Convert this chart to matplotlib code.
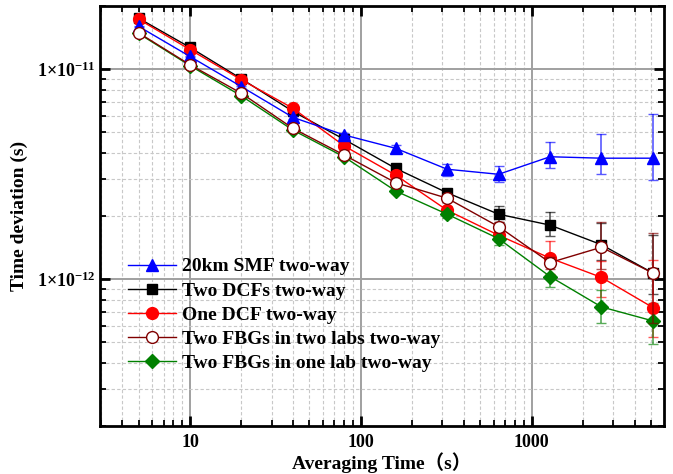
import matplotlib
matplotlib.use("Agg")
import matplotlib.pyplot as plt
from matplotlib.ticker import FixedLocator, NullFormatter, FixedFormatter, LogLocator
import numpy as np

plt.rcParams['font.family'] = ['Liberation Serif', 'Noto Sans CJK SC']
plt.rcParams['font.weight'] = 'bold'
plt.rcParams['mathtext.fontset'] = 'custom'
plt.rcParams['mathtext.rm'] = 'Liberation Serif:bold'
plt.rcParams['mathtext.bf'] = 'Liberation Serif:bold'
plt.rcParams['mathtext.it'] = 'Liberation Serif:bold'

tau = [5, 10, 20, 40, 80, 160, 320, 640, 1280, 2560, 5120]

labels = ["20km SMF two-way", "Two DCFs two-way", "One DCF two-way",
          "Two FBGs in two labs two-way", "Two FBGs in one lab two-way"]

smf = [1.60e-11, 1.15e-11, 8.26e-12, 5.9e-12, 4.86e-12, 4.2e-12, 3.34e-12, 3.16e-12, 3.83e-12, 3.77e-12, 3.77e-12]
smf_lo = [0.1e-12, 0.1e-12, 0.1e-12, 0.1e-12, 0.1e-12, 0.15e-12, 0.23e-12, 0.27e-12, 0.46e-12, 0.60e-12, 0.80e-12]
smf_hi = [0.1e-12, 0.1e-12, 0.1e-12, 0.1e-12, 0.1e-12, 0.15e-12, 0.18e-12, 0.30e-12, 0.66e-12, 1.14e-12, 2.33e-12]

dcf2 = [1.75e-11, 1.27e-11, 9.0e-12, 6.3e-12, 4.63e-12, 3.37e-12, 2.58e-12, 2.04e-12, 1.81e-12, 1.46e-12, 1.07e-12]
dcf2_lo = [0.1e-12, 0.1e-12, 0.1e-12, 0.08e-12, 0.08e-12, 0.08e-12, 0.1e-12, 0.17e-12, 0.21e-12, 0.23e-12, 0.22e-12]
dcf2_hi = [0.1e-12, 0.1e-12, 0.1e-12, 0.08e-12, 0.08e-12, 0.08e-12, 0.1e-12, 0.19e-12, 0.28e-12, 0.40e-12, 0.55e-12]

dcf1 = [1.73e-11, 1.24e-11, 8.9e-12, 6.52e-12, 4.31e-12, 3.13e-12, 2.13e-12, 1.62e-12, 1.26e-12, 1.02e-12, 7.33e-13]
dcf1_lo = [0.1e-12, 0.1e-12, 0.1e-12, 0.08e-12, 0.08e-12, 0.08e-12, 0.1e-12, 0.1e-12, 0.2e-12, 0.2e-12, 0.2e-12]
dcf1_hi = [0.1e-12, 0.1e-12, 0.1e-12, 0.08e-12, 0.08e-12, 0.08e-12, 0.1e-12, 0.1e-12, 0.26e-12, 0.2e-12, 0.5e-12]

fbg2 = [1.49e-11, 1.05e-11, 7.68e-12, 5.23e-12, 3.90e-12, 2.88e-12, 2.43e-12, 1.78e-12, 1.20e-12, 1.42e-12, 1.07e-12]
fbg2_lo = [0.1e-12, 0.1e-12, 0.08e-12, 0.06e-12, 0.06e-12, 0.06e-12, 0.08e-12, 0.1e-12, 0.08e-12, 0.3e-12, 0.45e-12]
fbg2_hi = [0.1e-12, 0.1e-12, 0.08e-12, 0.06e-12, 0.06e-12, 0.06e-12, 0.08e-12, 0.1e-12, 0.08e-12, 0.46e-12, 0.59e-12]

fbg1 = [1.48e-11, 1.04e-11, 7.46e-12, 5.13e-12, 3.82e-12, 2.63e-12, 2.04e-12, 1.56e-12, 1.03e-12, 7.38e-13, 6.33e-13]
fbg1_lo = [0.1e-12, 0.1e-12, 0.08e-12, 0.06e-12, 0.06e-12, 0.06e-12, 0.08e-12, 0.1e-12, 0.11e-12, 0.12e-12, 0.14e-12]
fbg1_hi = [0.1e-12, 0.1e-12, 0.08e-12, 0.06e-12, 0.06e-12, 0.06e-12, 0.08e-12, 0.1e-12, 0.12e-12, 0.15e-12, 0.14e-12]

fig = plt.figure(figsize=(6.73, 4.74), dpi=100)
ax = fig.add_axes([0.1486, 0.1013, 0.838, 0.886])
ax.set_xscale('log')
ax.set_yscale('log')
ax.set_xlim(2.973, 5946)
ax.set_ylim(2.0e-13, 2.0e-11)

series = [
    (dcf2, dcf2_lo, dcf2_hi, 'black', 's', 'black', 7.5, 3),
    (dcf1, dcf1_lo, dcf1_hi, '#ff0000', 'o', '#ff0000', 8.5, 4),
    (smf, smf_lo, smf_hi, '#0000ff', '^', '#0000ff', 9, 5),
    (fbg1, fbg1_lo, fbg1_hi, '#008000', 'D', '#008000', 7.5, 4),
    (fbg2, fbg2_lo, fbg2_hi, '#800000', 'o', 'white', 8.5, 6),
]
handles = {}
for i, (vals, lo, hi, col, mk, fc, ms, z) in enumerate(series):
    eb = ax.errorbar(tau, vals, yerr=[lo, hi], color=col, marker=mk, mfc=fc, mec=col,
                     ms=ms, lw=1.0, elinewidth=1.2, capsize=3.5, capthick=1.0,
                     ecolor=matplotlib.colors.to_rgba(col, 0.65), zorder=z)
    handles[col] = eb[0]

order = ['#0000ff', 'black', '#ff0000', '#800000', '#008000']
leg = ax.legend([handles[c] for c in order], labels, loc='upper left',
                bbox_to_anchor=(0.035, 0.419), frameon=False, fontsize=14,
                handlelength=2.5, labelspacing=0.34, handletextpad=0.3,
                borderaxespad=0)
for t in leg.get_texts():
    t.set_fontweight('bold')

# grid
ax.grid(which='major', color='#a0a0a0', lw=1.4, ls='-', zorder=0)
ax.grid(which='minor', color='#c8c8c8', lw=0.8, ls=(0, (3, 2)), zorder=0)
ax.set_axisbelow(True)

ax.xaxis.set_major_locator(FixedLocator([10, 100, 1000]))
ax.xaxis.set_major_formatter(FixedFormatter(['10', '100', '1000']))
ax.xaxis.set_minor_locator(LogLocator(base=10, subs=np.arange(2, 10), numticks=20))
ax.xaxis.set_minor_formatter(NullFormatter())
ax.yaxis.set_major_locator(FixedLocator([1e-12, 1e-11]))
ax.yaxis.set_major_formatter(FixedFormatter([r'$1{\times}10^{-12}$', r'$1{\times}10^{-11}$']))
ax.yaxis.set_minor_locator(LogLocator(base=10, subs=np.arange(2, 10), numticks=20))
ax.yaxis.set_minor_formatter(NullFormatter())

ax.tick_params(which='both', direction='in', top=True, right=True, labelsize=13)
ax.tick_params(which='major', length=7, width=2)
ax.tick_params(which='minor', length=4, width=1.3)
for sp in ax.spines.values():
    sp.set_linewidth(2)
for lab in ax.get_xticklabels() + ax.get_yticklabels():
    lab.set_fontweight('bold')
ax.tick_params(axis='x', pad=6)

ax.set_xlabel('Averaging Time（s）', fontsize=14, fontweight='bold', labelpad=1)
ax.set_ylabel('Time deviation (s)', fontsize=14, fontweight='bold', labelpad=6)

fig.savefig('out.png', dpi=100)
